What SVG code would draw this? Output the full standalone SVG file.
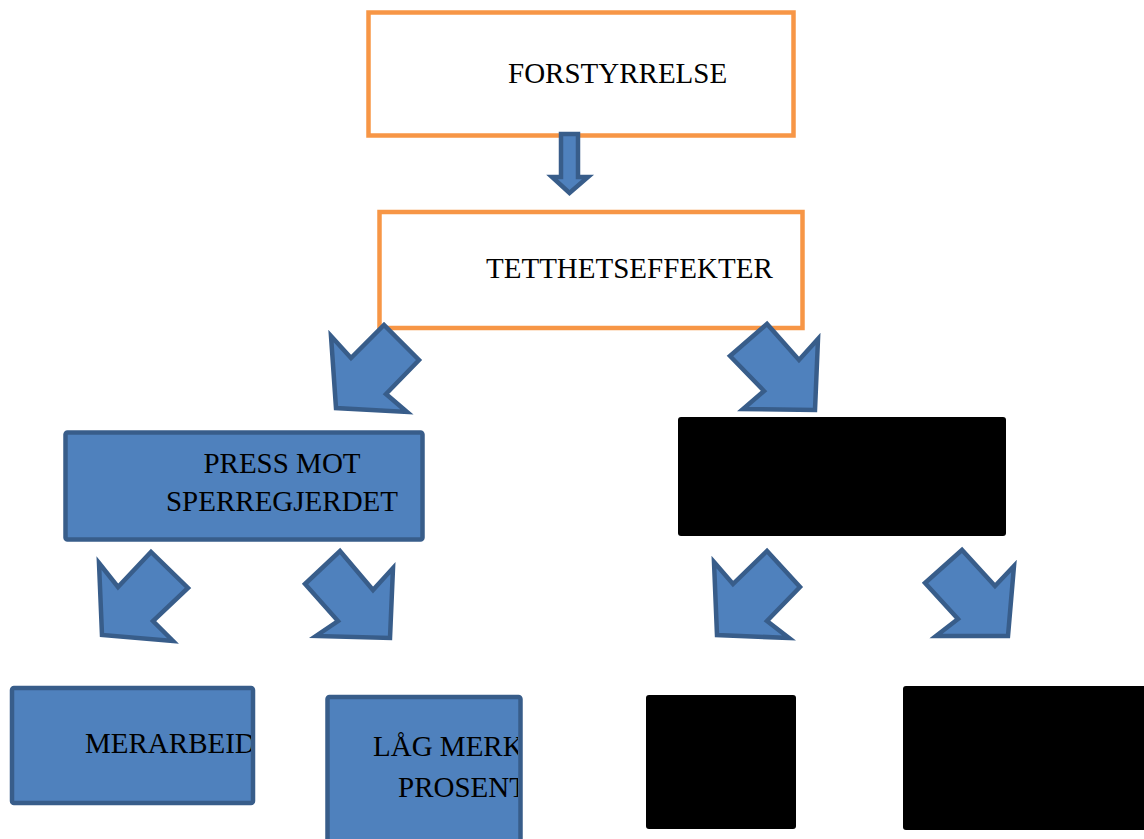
<svg xmlns="http://www.w3.org/2000/svg" width="1144" height="839" viewBox="0 0 1144 839">
<style>
.ob{fill:#ffffff;stroke:#F79646;stroke-width:4.5}
.bb{fill:#4F81BD;stroke:#385D8A;stroke-width:4.5}
.blk{fill:#000000}
.ar{fill:#4F81BD;stroke:#385D8A;stroke-width:4.5;stroke-linejoin:miter}
text{font-family:"Liberation Serif","Times New Roman",serif;font-size:29px;fill:#000000}
</style>
<defs>
<clipPath id="c1"><rect x="13" y="689" width="238" height="112"/></clipPath>
<clipPath id="c2"><rect x="329" y="698" width="189" height="141"/></clipPath>
</defs>
<rect width="1144" height="839" fill="#ffffff"/>
<g id="forstyrrelse">
<rect class="ob" x="368.5" y="12.5" width="425" height="123"/>
<text x="508" y="83">FORSTYRRELSE</text>
</g>
<g id="tetthetseffekter">
<rect class="ob" x="379.5" y="212" width="423" height="116"/>
<text x="486" y="278">TETTHETSEFFEKTER</text>
</g>
<g id="press">
<rect class="bb" x="65.5" y="432.5" width="357" height="107" rx="2"/>
<text x="282" y="473" text-anchor="middle">PRESS MOT</text>
<text x="282" y="511" text-anchor="middle">SPERREGJERDET</text>
</g>
<g id="hidden1">
<rect class="blk" x="678" y="417" width="328" height="119" rx="3"/>
</g>
<g id="merarbeid">
<rect class="bb" x="12" y="688" width="241" height="115" rx="2"/>
<text x="85" y="753" clip-path="url(#c1)">MERARBEID</text>
</g>
<g id="lagmerk">
<rect class="bb" x="327.5" y="697" width="193" height="150" rx="2"/>
<g clip-path="url(#c2)">
<text x="373" y="756">LÅG MERK</text>
<text x="398" y="797">PROSENT</text>
</g>
</g>
<g id="hidden2">
<rect class="blk" x="646" y="695" width="150" height="134" rx="3"/>
</g>
<g id="hidden3">
<rect class="blk" x="903" y="686" width="245" height="144" rx="3"/>
</g>
<g id="connectors">
<polygon class="ar" points="561,134 578,134 578,177 588,177 569.5,193 552,177 561,177"/>
<polygon class="ar" points="331,336 351,358 384,325 419,360 386,394 407,412 336,408"/>
<polygon class="ar" points="730,356 767,324 799,360 818,339 815,410 743,409 764,391"/>
<polygon class="ar" points="99,563 118,587 151,552 188,588 153,621 173,641 102,635"/>
<polygon class="ar" points="305,584 340,551 373,590 393,568 390,638 316,636 338,621"/>
<polygon class="ar" points="714,562 733,584 767,551 800,587 767,621 789,638 717,635"/>
<polygon class="ar" points="925,583 962,550 995,586 1014,566 1008,636 936,636 958,619"/>
</g>
</svg>
